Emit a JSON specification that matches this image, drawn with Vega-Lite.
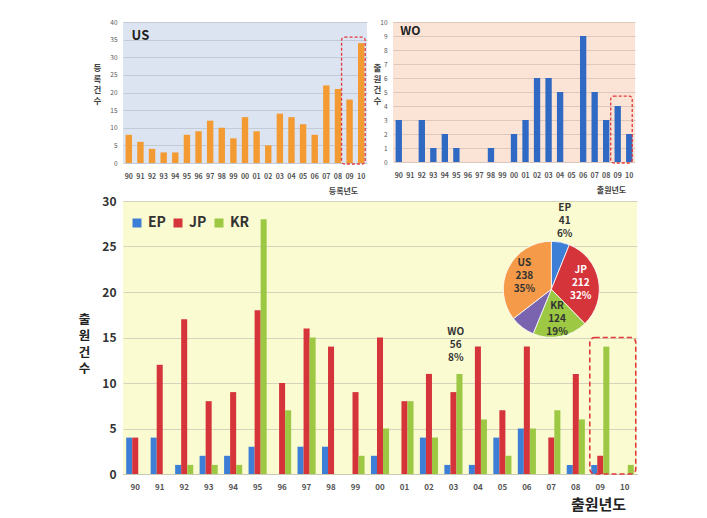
{
  "$schema": "https://vega.github.io/schema/vega-lite/v6.json",
  "background": "white",
  "padding": {"left": 78, "top": 19, "right": 5, "bottom": 5},
  "config": {
    "font": "Noto Sans CJK KR",
    "view": {"stroke": null},
    "axis": {"ticks": false, "labelFont": "Noto Sans CJK KR", "titleFont": "Noto Sans CJK KR"}
  },
  "datasets": {
    "years": [
      {"yr":"90","US":8,"WO":3,"EP":4,"JP":4,"KR":0},
      {"yr":"91","US":6,"WO":0,"EP":4,"JP":12,"KR":0},
      {"yr":"92","US":4,"WO":3,"EP":1,"JP":17,"KR":1},
      {"yr":"93","US":3,"WO":1,"EP":2,"JP":8,"KR":1},
      {"yr":"94","US":3,"WO":2,"EP":2,"JP":9,"KR":1},
      {"yr":"95","US":8,"WO":1,"EP":3,"JP":18,"KR":28},
      {"yr":"96","US":9,"WO":0,"EP":0,"JP":10,"KR":7},
      {"yr":"97","US":12,"WO":0,"EP":3,"JP":16,"KR":15},
      {"yr":"98","US":10,"WO":1,"EP":3,"JP":14,"KR":0},
      {"yr":"99","US":7,"WO":0,"EP":0,"JP":9,"KR":2},
      {"yr":"00","US":13,"WO":2,"EP":2,"JP":15,"KR":5},
      {"yr":"01","US":9,"WO":3,"EP":0,"JP":8,"KR":8},
      {"yr":"02","US":5,"WO":6,"EP":4,"JP":11,"KR":4},
      {"yr":"03","US":14,"WO":6,"EP":1,"JP":9,"KR":11},
      {"yr":"04","US":13,"WO":5,"EP":1,"JP":14,"KR":6},
      {"yr":"05","US":11,"WO":0,"EP":4,"JP":7,"KR":2},
      {"yr":"06","US":8,"WO":9,"EP":5,"JP":14,"KR":5},
      {"yr":"07","US":22,"WO":5,"EP":0,"JP":4,"KR":7},
      {"yr":"08","US":21,"WO":3,"EP":1,"JP":11,"KR":6},
      {"yr":"09","US":18,"WO":4,"EP":1,"JP":2,"KR":14},
      {"yr":"10","US":34,"WO":2,"EP":0,"JP":0,"KR":1}
    ],
    "pie": [
      {"office":"EP","n":41,"k":1,"lbl":"EP\n41\n6%"},
      {"office":"JP","n":212,"k":2,"lbl":"JP\n212\n32%"},
      {"office":"KR","n":124,"k":3,"lbl":"KR\n124\n19%"},
      {"office":"WO","n":56,"k":4,"lbl":"WO\n56\n8%"},
      {"office":"US","n":238,"k":5,"lbl":"US\n238\n35%"}
    ]
  },
  "spacing": 0,
  "vconcat": [
    {
      "spacing": 6,
      "hconcat": [
        {
          "width": 244, "height": 141,
          "title": {"text": " ", "orient": "left", "offset": 14, "fontSize": 1},
          "view": {"fill": "#dbe4f0", "stroke": null},
          "encoding": {
            "x": {"field": "yr", "type": "ordinal",
              "scale": {"domain": ["90","91","92","93","94","95","96","97","98","99","00","01","02","03","04","05","06","07","08","09","10"], "paddingInner": 0.45, "paddingOuter": 0.225},
              "axis": {"title": "등록년도", "titleX": 220, "titleY": 28, "titleBaseline": "middle", "titleFontSize": 8, "titleFontWeight": "bold", "titleColor": "#444", "labelAngle": 0, "labelFontSize": 7, "labelFontWeight": "bold", "labelColor": "#555", "labelPadding": 9, "domain": false}},
            "y": {"field": "v", "type": "quantitative",
              "scale": {"domain": [0, 40]},
              "axis": {"title": ["등","록","건","수"], "titleAngle": 0, "titleX": -26, "titleY": 45, "titleAlign": "center", "titleBaseline": "middle", "titleFontSize": 8.5, "titleLineHeight": 11, "titleFontWeight": "bold", "titleColor": "#444", "labelFontSize": 6.5, "labelColor": "#555", "labelPadding": 6, "values": [0,5,10,15,20,25,30,35,40], "domain": false, "gridColor": "#c3cbd8"}}
          },
          "layer": [
            {
              "data": {"name": "years"},
              "transform": [{"fold": ["US"], "as": ["office", "v"]}],
              "mark": {"type": "bar", "color": "#f39a33"}
            },
            {
              "data": {"values": [{"yr": "91", "v": 36, "lbl": "US"}]},
              "mark": {"type": "text", "fontSize": 13, "fontWeight": "bold", "color": "#222"},
              "encoding": {"text": {"field": "lbl"}}
            },
            {
              "data": {"values": [{"yr": "09", "yr2": "10", "v": 35.7}]},
              "mark": {"type": "rect", "fill": null, "stroke": "#e2383c", "strokeWidth": 1.3, "strokeDash": [3, 2], "cornerRadius": 3, "xOffset": -8, "x2Offset": 4, "y2Offset": 1},
              "encoding": {"x2": {"field": "yr2"}, "y2": {"datum": 0}}
            }
          ]
        },
        {
          "width": 242, "height": 140,
          "view": {"fill": "#fbe4d6", "stroke": null},
          "encoding": {
            "x": {"field": "yr", "type": "ordinal",
              "scale": {"domain": ["90","91","92","93","94","95","96","97","98","99","00","01","02","03","04","05","06","07","08","09","10"], "paddingInner": 0.45, "paddingOuter": 0.225},
              "axis": {"title": "출원년도", "titleX": 218, "titleY": 28, "titleBaseline": "middle", "titleFontSize": 8, "titleFontWeight": "bold", "titleColor": "#444", "labelAngle": 0, "labelFontSize": 7, "labelFontWeight": "bold", "labelColor": "#555", "labelPadding": 9, "domain": false}},
            "y": {"field": "v", "type": "quantitative",
              "scale": {"domain": [0, 10]},
              "axis": {"title": ["출","원","건","수"], "titleAngle": 0, "titleX": -16, "titleY": 45, "titleAlign": "center", "titleBaseline": "middle", "titleFontSize": 8.5, "titleLineHeight": 11, "titleFontWeight": "bold", "titleColor": "#444", "labelFontSize": 6.5, "labelColor": "#555", "labelPadding": 6, "values": [0,1,2,3,4,5,6,7,8,9,10], "domain": false, "gridColor": "#dcc8bc"}}
          },
          "layer": [
            {
              "data": {"name": "years"},
              "transform": [{"fold": ["WO"], "as": ["office", "v"]}],
              "mark": {"type": "bar", "color": "#2f69c4"}
            },
            {
              "data": {"values": [{"yr": "91", "v": 9.35, "lbl": "WO"}]},
              "mark": {"type": "text", "fontSize": 12, "fontWeight": "bold", "color": "#222"},
              "encoding": {"text": {"field": "lbl"}}
            },
            {
              "data": {"values": [{"yr": "09", "yr2": "10", "v": 4.7}]},
              "mark": {"type": "rect", "fill": null, "stroke": "#e2383c", "strokeWidth": 1.3, "strokeDash": [3, 2], "cornerRadius": 3, "xOffset": -7, "x2Offset": 3, "y2Offset": 1},
              "encoding": {"x2": {"field": "yr2"}, "y2": {"datum": 0}}
            }
          ]
        }
      ]
    },
    {
      "width": 514, "height": 273,
      "view": {"fill": "#fbfbd2", "stroke": null},
      "layer": [
        {
          "data": {"name": "years"},
          "transform": [{"fold": ["EP", "JP", "KR"], "as": ["office", "n"]}],
          "mark": {"type": "bar"},
          "encoding": {
            "x": {"field": "yr", "type": "ordinal",
              "scale": {"domain": ["90","91","92","93","94","95","96","97","98","99","00","01","02","03","04","05","06","07","08","09","10"], "paddingInner": 0.26, "paddingOuter": 0.13},
              "axis": {"title": "출원년도", "titleX": 475, "titleY": 30, "titleBaseline": "middle", "titleFontSize": 15, "titleFontWeight": "bold", "titleColor": "#222", "labelAngle": 0, "labelFontSize": 8, "labelFontWeight": "bold", "labelColor": "#555", "labelPadding": 9, "domain": true, "domainColor": "#c8c8b4"}},
            "xOffset": {"field": "office", "type": "nominal", "scale": {"domain": ["EP", "JP", "KR"], "paddingInner": 0, "paddingOuter": 0}},
            "y": {"field": "n", "type": "quantitative",
              "scale": {"domain": [0, 30]},
              "axis": {"title": ["출","원","건","수"], "titleAngle": 0, "titleX": -39, "titleY": 118, "titleAlign": "center", "titleBaseline": "middle", "titleFontSize": 12.5, "titleLineHeight": 16.5, "titleFontWeight": "bold", "titleColor": "#222", "labelFontSize": 12, "labelFontWeight": "bold", "labelColor": "#333", "labelPadding": 7, "values": [0,5,10,15,20,25,30], "domain": false, "gridColor": "#d4d4bc"}},
            "color": {"field": "office", "type": "nominal",
              "scale": {"domain": ["EP", "JP", "KR", "WO", "US"], "range": ["#3d7fd6", "#d5343a", "#9cc843", "#7a64b0", "#f59a48"]},
              "legend": {"values": ["EP", "JP", "KR"], "title": null, "orient": "none", "legendX": 7, "legendY": 194, "direction": "horizontal", "symbolType": "square", "symbolSize": 81, "symbolStrokeWidth": 0, "labelFontSize": 14, "labelFontWeight": "bold", "labelColor": "#333", "columnPadding": 5, "labelOffset": 4}}
          }
        },
        {
          "data": {"values": [{"a": "09", "b": "10", "top": 15}]},
          "mark": {"type": "rect", "fill": null, "stroke": "#e2383c", "strokeWidth": 1.6, "strokeDash": [5, 3], "cornerRadius": 5, "xOffset": -10.5, "x2Offset": 11},
          "encoding": {
            "x": {"field": "a", "type": "ordinal"},
            "x2": {"field": "b"},
            "y": {"field": "top", "type": "quantitative"},
            "y2": {"datum": 0}
          }
        },
        {
          "data": {"name": "pie"},
          "mark": {"type": "arc", "outerRadius": 48, "stroke": "white", "strokeWidth": 0.8},
          "encoding": {
            "x": {"datum": "07"},
            "y": {"datum": 20.3},
            "theta": {"field": "n", "type": "quantitative", "stack": true},
            "order": {"field": "k", "type": "quantitative"},
            "color": {"field": "office", "type": "nominal"}
          }
        },
        {
          "data": {"name": "pie"},
          "mark": {"type": "text", "radius": 30, "dy": -13, "lineBreak": "\n", "fontSize": 10, "fontWeight": "bold", "lineHeight": 13},
          "encoding": {
            "x": {"datum": "07"},
            "y": {"datum": 20.3},
            "theta": {"field": "n", "type": "quantitative", "stack": true},
            "order": {"field": "k", "type": "quantitative"},
            "text": {"field": "lbl", "type": "nominal", "condition": {"test": "datum.office == 'EP' || datum.office == 'WO'", "value": ""}},
            "color": {"condition": {"test": "datum.office == 'JP'", "value": "white"}, "value": "#333"}
          }
        },
        {
          "data": {"name": "pie"},
          "mark": {"type": "text", "radius": 70, "dy": -13, "lineBreak": "\n", "fontSize": 10, "fontWeight": "bold", "lineHeight": 13},
          "encoding": {
            "x": {"datum": "07"},
            "y": {"datum": 20.3},
            "theta": {"field": "n", "type": "quantitative", "stack": true},
            "order": {"field": "k", "type": "quantitative"},
            "text": {"field": "lbl", "type": "nominal", "condition": {"test": "datum.office != 'EP'", "value": ""}},
            "color": {"value": "#333"}
          }
        },
        {
          "data": {"name": "pie"},
          "mark": {"type": "text", "radius": 67, "dx": -55, "dy": -11, "lineBreak": "\n", "fontSize": 10, "fontWeight": "bold", "lineHeight": 13},
          "encoding": {
            "x": {"datum": "07"},
            "y": {"datum": 20.3},
            "theta": {"field": "n", "type": "quantitative", "stack": true},
            "order": {"field": "k", "type": "quantitative"},
            "text": {"field": "lbl", "type": "nominal", "condition": {"test": "datum.office != 'WO'", "value": ""}},
            "color": {"value": "#333"}
          }
        }
      ]
    }
  ]
}
